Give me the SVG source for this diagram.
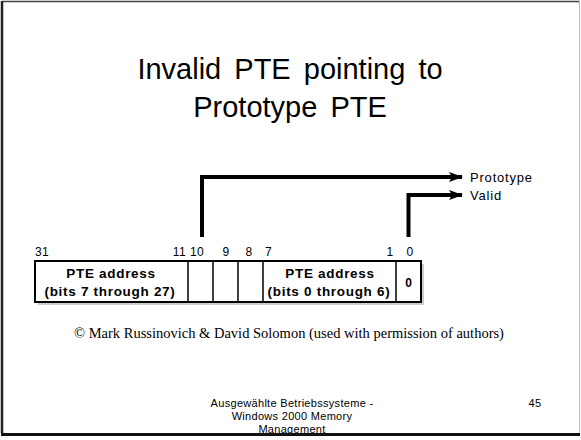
<svg xmlns="http://www.w3.org/2000/svg" width="581" height="440" viewBox="0 0 581 440">
<style>
.t{font-family:"Liberation Sans",Arial,sans-serif;fill:#000}
.b{font-weight:bold;font-size:13.5px;letter-spacing:0.7px}
.n{font-size:12px;letter-spacing:0.4px}
.l{font-size:13px;letter-spacing:0.8px}
.c{stroke:#000;stroke-width:4;fill:none}
</style>
<defs>
<marker id="ah" markerWidth="14" markerHeight="10" refX="13" refY="5" orient="auto" markerUnits="userSpaceOnUse">
<path d="M0,0 L14,5 L0,10 L3,5 Z" fill="#000"/>
</marker>
</defs>
<rect x="0" y="0" width="581" height="440" fill="#fff"/>
<g id="frame">
<line x1="2" y1="1.5" x2="580" y2="1.5" stroke="#444" stroke-width="1.5"/>
<line x1="2" y1="1" x2="2" y2="436" stroke="#222" stroke-width="2.5"/>
<line x1="579.5" y1="1" x2="579.5" y2="436" stroke="#bbb" stroke-width="1"/>
</g>
<g id="title">
<text class="t" x="290" y="79" font-size="29" word-spacing="5" text-anchor="middle">Invalid PTE pointing to</text>
<text class="t" x="290" y="117" font-size="29" word-spacing="5" text-anchor="middle">Prototype PTE</text>
</g>
<g id="bitnums" class="t n">
<text x="35" y="256">31</text>
<text x="186" y="256" text-anchor="end">11</text>
<text x="190" y="256">10</text>
<text x="226" y="256" text-anchor="middle">9</text>
<text x="249" y="256" text-anchor="middle">8</text>
<text x="265" y="256">7</text>
<text x="390" y="256" text-anchor="middle">1</text>
<text x="410" y="256" text-anchor="middle">0</text>
</g>
<g id="pte">
<rect x="38" y="264" width="386" height="41" fill="#ccc"/>
<rect x="35" y="261" width="386" height="41" fill="#fff" stroke="#000" stroke-width="2"/>
<g stroke="#000" stroke-width="1.5">
<line x1="188" y1="261" x2="188" y2="302"/>
<line x1="213" y1="261" x2="213" y2="302"/>
<line x1="238" y1="261" x2="238" y2="302"/>
<line x1="263" y1="261" x2="263" y2="302"/>
<line x1="396" y1="261" x2="396" y2="302"/>
</g>
<g class="t b" text-anchor="middle">
<text x="111" y="278">PTE address</text>
<text x="110" y="296">(bits 7 through 27)</text>
<text x="330" y="278">PTE address</text>
<text x="329" y="296">(bits 0 through 6)</text>
<text x="408.5" y="287" font-size="12" letter-spacing="0">0</text>
</g>
</g>
<g id="connectors">
<path class="c" d="M202,237 V177 H462" marker-end="url(#ah)"/>
<path class="c" d="M408.5,237 V195 H462" marker-end="url(#ah)"/>
</g>
<g id="labels" class="t l">
<text x="470" y="182">Prototype</text>
<text x="470" y="200">Valid</text>
</g>
<text x="289" y="338" font-family="'Liberation Serif','Times New Roman',serif" font-size="14.5" text-anchor="middle">© Mark Russinovich &amp; David Solomon (used with permission of authors)</text>
<g id="footer" class="t" font-size="11" letter-spacing="0.3" text-anchor="middle">
<text x="292" y="407">Ausgewählte Betriebssysteme -</text>
<text x="292" y="420">Windows 2000 Memory</text>
<text x="292" y="433">Management</text>
<text x="535" y="407">45</text>
</g>
<rect x="0" y="433" width="581" height="7" fill="#fff"/>
<line x1="1" y1="434.5" x2="580" y2="434.5" stroke="#111" stroke-width="3"/>
</svg>
